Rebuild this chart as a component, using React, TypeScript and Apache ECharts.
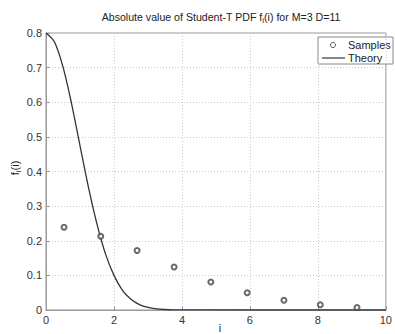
import React, { useEffect, useRef } from "react";
import * as echarts from "echarts";

const sampleX = [0.53, 1.61, 2.68, 3.77, 4.85, 5.92, 7.0, 8.07, 9.15];
const sampleY = [0.239, 0.213, 0.172, 0.124, 0.081, 0.05, 0.028, 0.015, 0.007];

const theoryX = [0, 0.25, 0.5, 0.75, 1.0, 1.25, 1.5, 1.75, 2.0, 2.25, 2.5, 2.75, 3.0, 3.25, 3.5, 3.75, 4.0, 10];
const theoryY = [0.8, 0.774, 0.702, 0.597, 0.475, 0.354, 0.248, 0.162, 0.1, 0.057, 0.031, 0.0156, 0.0074, 0.0033, 0.0014, 0.0006, 0.0002, 0];

const xTicks = [0, 2, 4, 6, 8, 10];
const yTicks = [0, 0.1, 0.2, 0.3, 0.4, 0.5, 0.6, 0.7, 0.8];
const legendNames = ["Samples", "Theory"];

const FONT = "Liberation Sans, Arial, sans-serif";

export default function App() {
  const ref = useRef<HTMLDivElement>(null);
  useEffect(() => {
    const chart = echarts.init(ref.current!, null, { renderer: "svg" });
    const txt = { fontSize: 11, fontFamily: FONT, fill: "#222" };
    chart.setOption({
      animation: false,
      backgroundColor: "#fff",
      textStyle: { fontFamily: FONT },
      grid: {
        left: 46,
        top: 33,
        width: 350,
        height: 277,
        show: true,
        borderColor: "#999",
        borderWidth: 1,
        backgroundColor: "#fff",
      },
      xAxis: {
        type: "value",
        min: xTicks[0],
        max: xTicks[xTicks.length - 1],
        interval: 2,
        axisLine: { show: true, lineStyle: { color: "#999" } },
        axisTick: { show: true, inside: true, length: 4, lineStyle: { color: "#999" } },
        axisLabel: { color: "#333", fontSize: 11, margin: 4, fontFamily: FONT },
        splitLine: { show: true, lineStyle: { color: "#ccc", type: [1, 2] } },
      },
      yAxis: {
        type: "value",
        min: yTicks[0],
        max: yTicks[yTicks.length - 1],
        interval: 0.1,
        axisLine: { show: true, lineStyle: { color: "#999" } },
        axisTick: { show: true, inside: true, length: 4, lineStyle: { color: "#999" } },
        axisLabel: {
          color: "#333",
          fontSize: 11,
          margin: 4,
          fontFamily: FONT,
          formatter: (v: number) => (v === 0 ? "0" : v.toFixed(1)),
        },
        splitLine: { show: true, lineStyle: { color: "#ccc", type: [1, 2] } },
      },
      graphic: [
        {
          type: "text",
          x: 221,
          y: 17,
          style: {
            text: "{n|Absolute value of Student-T PDF f}{s|i}{n|(i) for M=3 D=11}",
            align: "center",
            verticalAlign: "middle",
            rich: {
              n: { fontSize: 10.6, fontFamily: FONT, fill: "#222" },
              s: { fontSize: 8, fontFamily: FONT, fill: "#222", padding: [6, 0, 0, 0] },
            },
          },
        },
        {
          type: "text",
          x: 15,
          y: 168,
          rotation: Math.PI / 2,
          style: {
            text: "{n|f}{s|i}{n|(i)}",
            align: "center",
            verticalAlign: "middle",
            rich: {
              n: { fontSize: 11, fontFamily: FONT, fill: "#222" },
              s: { fontSize: 8, fontFamily: FONT, fill: "#222", padding: [6, 0, 0, 0] },
            },
          },
        },
        {
          type: "text",
          x: 220,
          y: 328,
          style: { text: "i", align: "center", verticalAlign: "middle", ...txt },
        },
        {
          type: "group",
          x: 318,
          y: 37,
          z: 100,
          children: [
            {
              type: "rect",
              shape: { x: 0, y: 0, width: 75, height: 27 },
              style: { fill: "#fff", stroke: "#888", lineWidth: 1 },
            },
            {
              type: "circle",
              shape: { cx: 15, cy: 8, r: 2.5 },
              style: { fill: "none", stroke: "#444", lineWidth: 0.9 },
            },
            {
              type: "text",
              x: 30,
              y: 8,
              style: { text: legendNames[0], verticalAlign: "middle", ...txt },
            },
            {
              type: "line",
              shape: { x1: 4, y1: 21, x2: 27, y2: 21 },
              style: { stroke: "#333", lineWidth: 1.2 },
            },
            {
              type: "text",
              x: 30,
              y: 21,
              style: { text: legendNames[1], verticalAlign: "middle", ...txt },
            },
          ],
        },
      ],
      series: [
        {
          name: legendNames[0],
          type: "scatter",
          symbol: "emptyCircle",
          symbolSize: 5,
          itemStyle: { color: "#444", borderColor: "#444", borderWidth: 0.9 },
          data: sampleX.map((x, i) => [x, sampleY[i]]),
          z: 3,
        },
        {
          name: legendNames[1],
          type: "line",
          showSymbol: false,
          symbol: "none",
          smooth: 0.3,
          lineStyle: { color: "#333", width: 1.3 },
          data: theoryX.map((x, i) => [x, theoryY[i]]),
          z: 2,
        },
      ],
    });
    return () => chart.dispose();
  }, []);
  return (
    <div
      ref={ref}
      style={{ position: "fixed", left: 0, top: 0, width: 395, height: 334 }}
    />
  );
}
